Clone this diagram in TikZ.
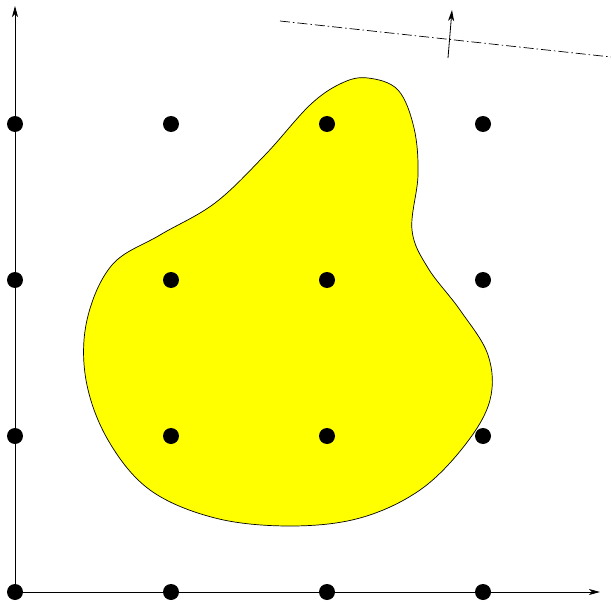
\documentclass[tikz,border=0pt]{standalone}
\usetikzlibrary{arrows.meta}
\begin{document}
\begin{tikzpicture}[x=1pt,y=-1pt,
  dot/.style={circle,fill=black,inner sep=0pt,minimum size=16pt},
  axis/.style={draw=black,line width=0.8pt,-{Stealth[length=11pt,width=6pt,inset=3pt]}},
  lattice/.style={draw=black,line width=0.8pt}]
\useasboundingbox (0,0) rectangle (611,602);
% blob
\filldraw[fill={rgb,255:red,255;green,255;blue,0},draw=black,line width=0.7pt] plot[smooth cycle,tension=0.6] coordinates {
 (368,78) (398,90) (414,128) (418,175) (412,230) (428,268) (460,310) (488,355) (490,400)
 (465,445) (420,490) (360,518) (290,526) (215,518) (150,490) (108,440) (86,380) (87,320)
 (112,265) (160,235) (215,203) (265,155) (310,105) (342,83)};
% axes
\coordinate (o) at (15,592);
\coordinate (ytop) at (15,6);
\coordinate (xend) at (600,592);
\draw[axis] (o) -- (ytop);
\draw[axis] (o) -- (xend);
% dots
\foreach \i in {0,1,2,3}{
 \foreach \j in {0,1,2,3}{
  \node[dot] (d\i\j) at ({15+156*\i},{592-156*\j}) {};
 }}
% dash-dot line
\coordinate (l1) at (280,21);
\coordinate (l2) at (611,57);
\draw[line width=0.7pt,dash pattern=on 10pt off 3pt on 1.5pt off 3pt] (l1) -- (l2);
\coordinate (a1) at (448,58);
\coordinate (a2) at (452,10);
\draw[axis] (a1) -- (a2);
\end{tikzpicture}
\end{document}
